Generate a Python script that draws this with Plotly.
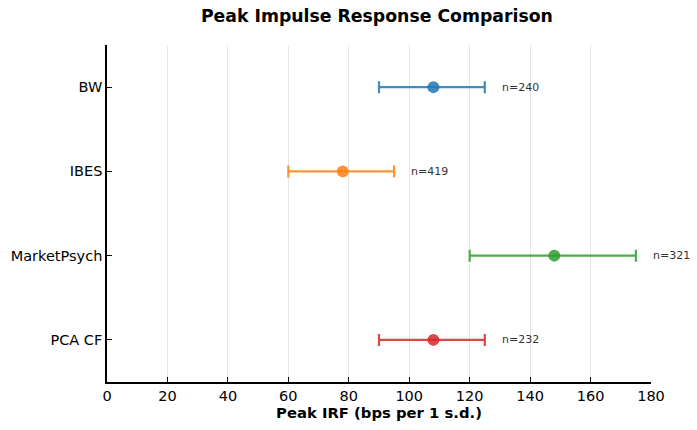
import plotly.graph_objects as go

categories = ["BW", "IBES", "MarketPsych", "PCA CF"]
peak = [108, 78, 148, 108]
lower = [90, 60, 120, 90]
upper = [125, 95, 175, 125]
n_obs = [240, 419, 321, 232]
colors = ["rgba(31,119,180,0.85)", "rgba(255,127,14,0.85)", "rgba(44,160,44,0.85)", "rgba(214,39,40,0.85)"]
x_ticks = [0, 20, 40, 60, 80, 100, 120, 140, 160, 180]

ypos = {c: len(categories) - 1 - i for i, c in enumerate(categories)}

fig = go.Figure()
for i, c in enumerate(categories):
    fig.add_trace(go.Scatter(
        x=[peak[i]], y=[ypos[c]], mode="markers",
        marker=dict(size=12, color=colors[i]),
        error_x=dict(type="data", symmetric=False,
                     array=[upper[i] - peak[i]], arrayminus=[peak[i] - lower[i]],
                     color=colors[i], thickness=2.2, width=6),
        showlegend=False, hoverinfo="skip", cliponaxis=False))
    fig.add_annotation(
        x=upper[i] + 5, y=ypos[c], xref="x", yref="y",
        text=f"n={n_obs[i]}", showarrow=False, xanchor="left", yanchor="middle",
        font=dict(size=11, color="#333333", family="DejaVu Sans"))

fig.update_layout(
    width=697, height=430,
    margin=dict(l=107, r=46, t=45, b=48),
    plot_bgcolor="white", paper_bgcolor="white",
    font=dict(family="DejaVu Sans", color="black", size=14.5),
    title=dict(text="<b>Peak Impulse Response Comparison</b>", x=(107 + 651) / 2 / 697 - 0.003,
               xanchor="center", y=1 - 16 / 430, yanchor="middle",
               font=dict(size=17.3, family="DejaVu Sans", color="black")),
)
fig.update_xaxes(range=[0, 180], tickvals=x_ticks, ticktext=[str(v) for v in x_ticks],
                 showgrid=True, gridcolor="#e6e6e6", gridwidth=1,
                 showline=True, linecolor="black", linewidth=1.5,
                 ticks="inside", ticklen=5, tickcolor="black",
                 zeroline=False, tickfont=dict(size=14.5), automargin=False,
                 title=dict(text="<b>Peak IRF (bps per 1 s.d.)</b>", font=dict(size=14.8), standoff=4))
fig.update_yaxes(range=[-0.5, 3.5], tickvals=[ypos[c] for c in categories], ticktext=categories,
                 showgrid=False, showline=True, linecolor="black", linewidth=1.5,
                 ticks="inside", ticklen=5, tickcolor="black", zeroline=False,
                 tickfont=dict(size=14.5), automargin=False)

fig.write_html("out.html", config={"displayModeBar": False},
               post_script="document.body.style.margin='0';")
